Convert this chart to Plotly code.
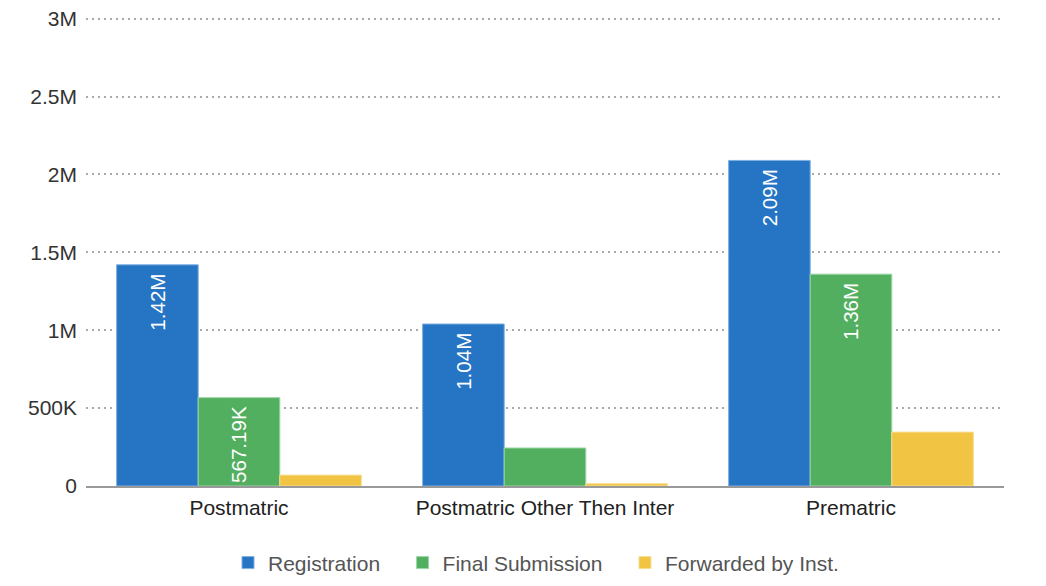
import plotly.graph_objects as go

categories = ["Postmatric", "Postmatric Other Then Inter", "Prematric"]
registration = [1420000, 1040000, 2090000]
final_submission = [567190, 244000, 1360000]
forwarded = [70000, 15000, 346000]

series_names = ["Registration", "Final Submission", "Forwarded by Inst."]
colors = ["#2575C4", "#53AF60", "#F2C443"]
line_colors = ["#7FB0E0", "#9DD5A5", "#F8DE94"]

ytick_vals = [0, 500000, 1000000, 1500000, 2000000, 2500000, 3000000]
ytick_text = ["0", "500K", "1M", "1.5M", "2M", "2.5M", "3M"]

FONT = "Liberation Sans, Arial, sans-serif"


def fmt(v):
    if v >= 1e6:
        return f"{v/1e6:.2f}M"
    return f"{v/1e3:.2f}K"


fig = go.Figure()
for name, vals, c, lc in zip(series_names, [registration, final_submission, forwarded], colors, line_colors):
    fig.add_trace(go.Bar(
        name=name + "\u00a0\u00a0\u00a0", x=categories, y=vals,
        marker=dict(color=c, line=dict(color=lc, width=1)),
        text=[fmt(v) + "\u00a0" for v in vals],
        textposition="inside", insidetextanchor="end", textangle=-90,
        insidetextfont=dict(color="white", size=21, family=FONT),
        hoverinfo="x+y",
    ))

fig.update_layout(
    width=1030, height=570,
    margin=dict(l=78, r=34, t=6, b=92, autoexpand=False),
    plot_bgcolor="white", paper_bgcolor="white",
    barmode="group", bargap=0.2, bargroupgap=0,
    font=dict(family=FONT, size=21, color="#333"),
    uniformtext=dict(minsize=15, mode="hide"),
    legend=dict(orientation="h", x=0.5, xanchor="center", y=-0.163, yanchor="middle",
                font=dict(size=21, color="#555"), itemwidth=30, traceorder="normal"),
    xaxis=dict(showline=True, linecolor="#999", linewidth=2, ticks="",
               tickfont=dict(size=21, color="#222"), showgrid=False, automargin=False,
               ticklabelstandoff=2),
    yaxis=dict(range=[0, 3030000], tickvals=ytick_vals, ticktext=ytick_text,
               showgrid=True, gridcolor="#aaa", gridwidth=2, griddash="2px,4px",
               zeroline=False, tickfont=dict(size=21, color="#333"), ticks="",
               ticklabelstandoff=8, automargin=False, ticklabeloverflow="allow"),
)

fig.write_html("out.html")
